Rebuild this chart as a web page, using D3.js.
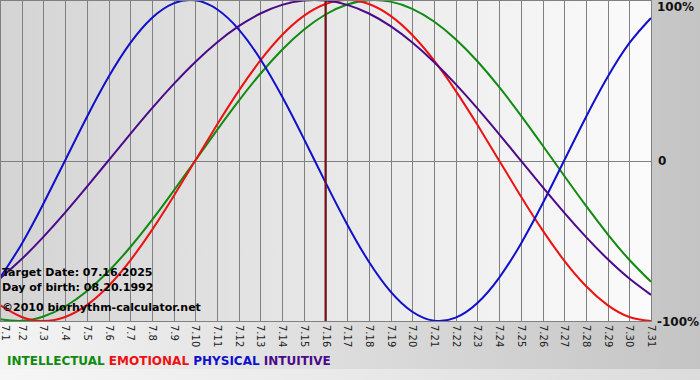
<!DOCTYPE html>
<html>
<head>
<meta charset="utf-8">
<script src="https://cdn.jsdelivr.net/npm/d3@7"></script>
<style>
  body { margin: 0; }
  svg { display: block; }
  text { font-family: Verdana, "DejaVu Sans", sans-serif; }
</style>
</head>
<body>
<svg id="chart" width="700" height="380"></svg>
<script>
const days = ['7.1', '7.2', '7.3', '7.4', '7.5', '7.6', '7.7', '7.8', '7.9', '7.10', '7.11',
  '7.12', '7.13', '7.14', '7.15', '7.16', '7.17', '7.18', '7.19', '7.20', '7.21', '7.22',
  '7.23', '7.24', '7.25', '7.26', '7.27', '7.28', '7.29', '7.30', '7.31'];

const intellectual = [-0.9898, -0.9989, -0.9718, -0.9096, -0.8146, -0.6901, -0.5406, -0.3717,
  -0.1893, 0.0, 0.1893, 0.3717, 0.5406, 0.6901, 0.8146, 0.9096, 0.9718, 0.9989, 0.9898,
  0.945, 0.866, 0.7557, 0.6182, 0.4582, 0.2817, 0.0951, -0.0951, -0.2817, -0.4582, -0.6182,
  -0.7557];
const emotional = [-0.901, -0.9749, -1.0, -0.9749, -0.901, -0.7818, -0.6235, -0.4339, -0.2225,
  0.0, 0.2225, 0.4339, 0.6235, 0.7818, 0.901, 0.9749, 1.0, 0.9749, 0.901, 0.7818, 0.6235,
  0.4339, 0.2225, 0.0, -0.2225, -0.4339, -0.6235, -0.7818, -0.901, -0.9749, -1.0];
const physical = [-0.7308, -0.5196, -0.2698, 0.0, 0.2698, 0.5196, 0.7308, 0.8879, 0.9791,
  0.9977, 0.9423, 0.817, 0.6311, 0.3984, 0.1362, -0.1362, -0.3984, -0.6311, -0.817, -0.9423,
  -0.9977, -0.9791, -0.8879, -0.7308, -0.5196, -0.2698, 0.0, 0.2698, 0.5196, 0.7308, 0.8879];
const intuitive = [-0.7357, -0.6142, -0.4759, -0.3247, -0.1646, 0.0, 0.1646, 0.3247, 0.4759,
  0.6142, 0.7357, 0.8372, 0.9158, 0.9694, 0.9966, 0.9966, 0.9694, 0.9158, 0.8372, 0.7357,
  0.6142, 0.4759, 0.3247, 0.1646, 0.0, -0.1646, -0.3247, -0.4759, -0.6142, -0.7357, -0.8372];

const seriesNames = ['INTELLECTUAL', 'EMOTIONAL', 'PHYSICAL', 'INTUITIVE'];
const seriesValues = [intellectual, emotional, physical, intuitive];
const seriesColors = ['#108a10', '#ee1111', '#1010cc', '#4b0a8a'];

const yTickValues = [1, 0, -1];
const yTickLabels = ['100%', '0', '-100%'];

const targetDay = '7.16';
const infoLines = ['Target Date: 07.16.2025', 'Day of birth: 08.20.1992', '©2010 biorhythm-calculator.net'];

const width = 700;
const height = 380;
const plotW = 651;
const plotH = 321;

const svg = d3.select('#chart');
const defs = svg.append('defs');

const outerGrad = defs.append('linearGradient').attr('id', 'outerGrad');
outerGrad.append('stop').attr('offset', '0%').attr('stop-color', '#f4f4f4');
outerGrad.append('stop').attr('offset', '100%').attr('stop-color', '#c4c4c4');

const plotGrad = defs.append('linearGradient').attr('id', 'plotGrad');
plotGrad.append('stop').attr('offset', '0%').attr('stop-color', '#d4d4d4');
plotGrad.append('stop').attr('offset', '100%').attr('stop-color', '#fbfbfb');

const stripGrad = defs.append('linearGradient').attr('id', 'stripGrad');
stripGrad.append('stop').attr('offset', '0%').attr('stop-color', '#f6f6f6');
stripGrad.append('stop').attr('offset', '100%').attr('stop-color', '#dcdcdc');

svg.append('rect').attr('width', width).attr('height', height).attr('fill', 'url(#outerGrad)');
svg.append('rect').attr('y', 369).attr('width', width).attr('height', height - 369)
  .attr('fill', 'url(#stripGrad)');
svg.append('rect').attr('width', plotW).attr('height', plotH).attr('fill', 'url(#plotGrad)');

const x = d3.scalePoint().domain(days).range([0, plotW]);
const y = d3.scaleLinear().domain([-1, 1]).range([plotH, 0]);

// grid
const grid = svg.append('g');
grid.selectAll('line.v')
  .data(days)
  .join('line')
  .attr('class', 'v')
  .attr('x1', (d) => Math.round(x(d)) + 0.5)
  .attr('x2', (d) => Math.round(x(d)) + 0.5)
  .attr('y1', 0)
  .attr('y2', plotH)
  .attr('stroke', '#808080')
  .attr('stroke-width', 1);

grid.selectAll('line.h')
  .data(yTickValues)
  .join('line')
  .attr('class', 'h')
  .attr('x1', 0)
  .attr('x2', plotW)
  .attr('y1', (d) => Math.round(y(d)) + 0.5)
  .attr('y2', (d) => Math.round(y(d)) + 0.5)
  .attr('stroke', '#808080');

// x axis labels (rotated), first one nudged so it is not cut at the edge
const xAxisG = svg.append('g').attr('transform', `translate(0,${plotH})`);
xAxisG.call(d3.axisBottom(x).tickSize(0).tickPadding(0));
xAxisG.select('.domain').remove();
xAxisG.selectAll('.tick text')
  .attr('transform', (d, i) => (i === 0 ? 'translate(5,0) rotate(90)' : 'rotate(90)'))
  .attr('x', 4)
  .attr('y', 0)
  .attr('dy', '0.35em')
  .style('text-anchor', 'start')
  .attr('font-size', '10px')
  .attr('font-family', 'Verdana, "DejaVu Sans", sans-serif')
  .attr('fill', '#222');

// right labels
svg.append('g')
  .selectAll('text')
  .data(yTickValues)
  .join('text')
  .attr('x', (d, i) => (i === 1 ? 658 : 657))
  .attr('y', (d) => y(d))
  .attr('dy', (d) => (d === 1 ? '0.9em' : '0.4em'))
  .attr('font-size', '12px')
  .attr('font-weight', 'bold')
  .attr('fill', '#111')
  .text((d, i) => yTickLabels[i]);

// curves
const line = d3.line()
  .x((d, i) => x(days[i]))
  .y((d) => y(d))
  .curve(d3.curveNatural);

svg.append('g')
  .selectAll('path')
  .data(seriesValues)
  .join('path')
  .attr('d', line)
  .attr('fill', 'none')
  .attr('stroke', (d, i) => seriesColors[i])
  .attr('stroke-width', 2);

// target day marker
svg.append('line')
  .attr('x1', x(targetDay))
  .attr('x2', x(targetDay))
  .attr('y1', 0)
  .attr('y2', plotH)
  .attr('stroke', '#7a1010')
  .attr('stroke-width', 2);

// info text
svg.append('g')
  .selectAll('text')
  .data(infoLines)
  .join('text')
  .attr('x', 2)
  .attr('y', (d, i) => [276, 291, 311][i])
  .attr('font-size', '11px')
  .attr('font-weight', 'bold')
  .attr('fill', '#000')
  .text((d) => d);

// legend
const legend = svg.append('text')
  .attr('x', 7)
  .attr('y', 365)
  .attr('font-size', '12px')
  .attr('font-weight', 'bold');
legend.selectAll('tspan')
  .data(seriesNames)
  .join('tspan')
  .attr('fill', (d, i) => seriesColors[i])
  .text((d, i) => (i < seriesNames.length - 1 ? `${d} ` : d));

// plot border
svg.append('rect')
  .attr('x', 0.5)
  .attr('y', 0.5)
  .attr('width', plotW)
  .attr('height', plotH)
  .attr('fill', 'none')
  .attr('stroke', '#808080');
</script>
</body>
</html>
